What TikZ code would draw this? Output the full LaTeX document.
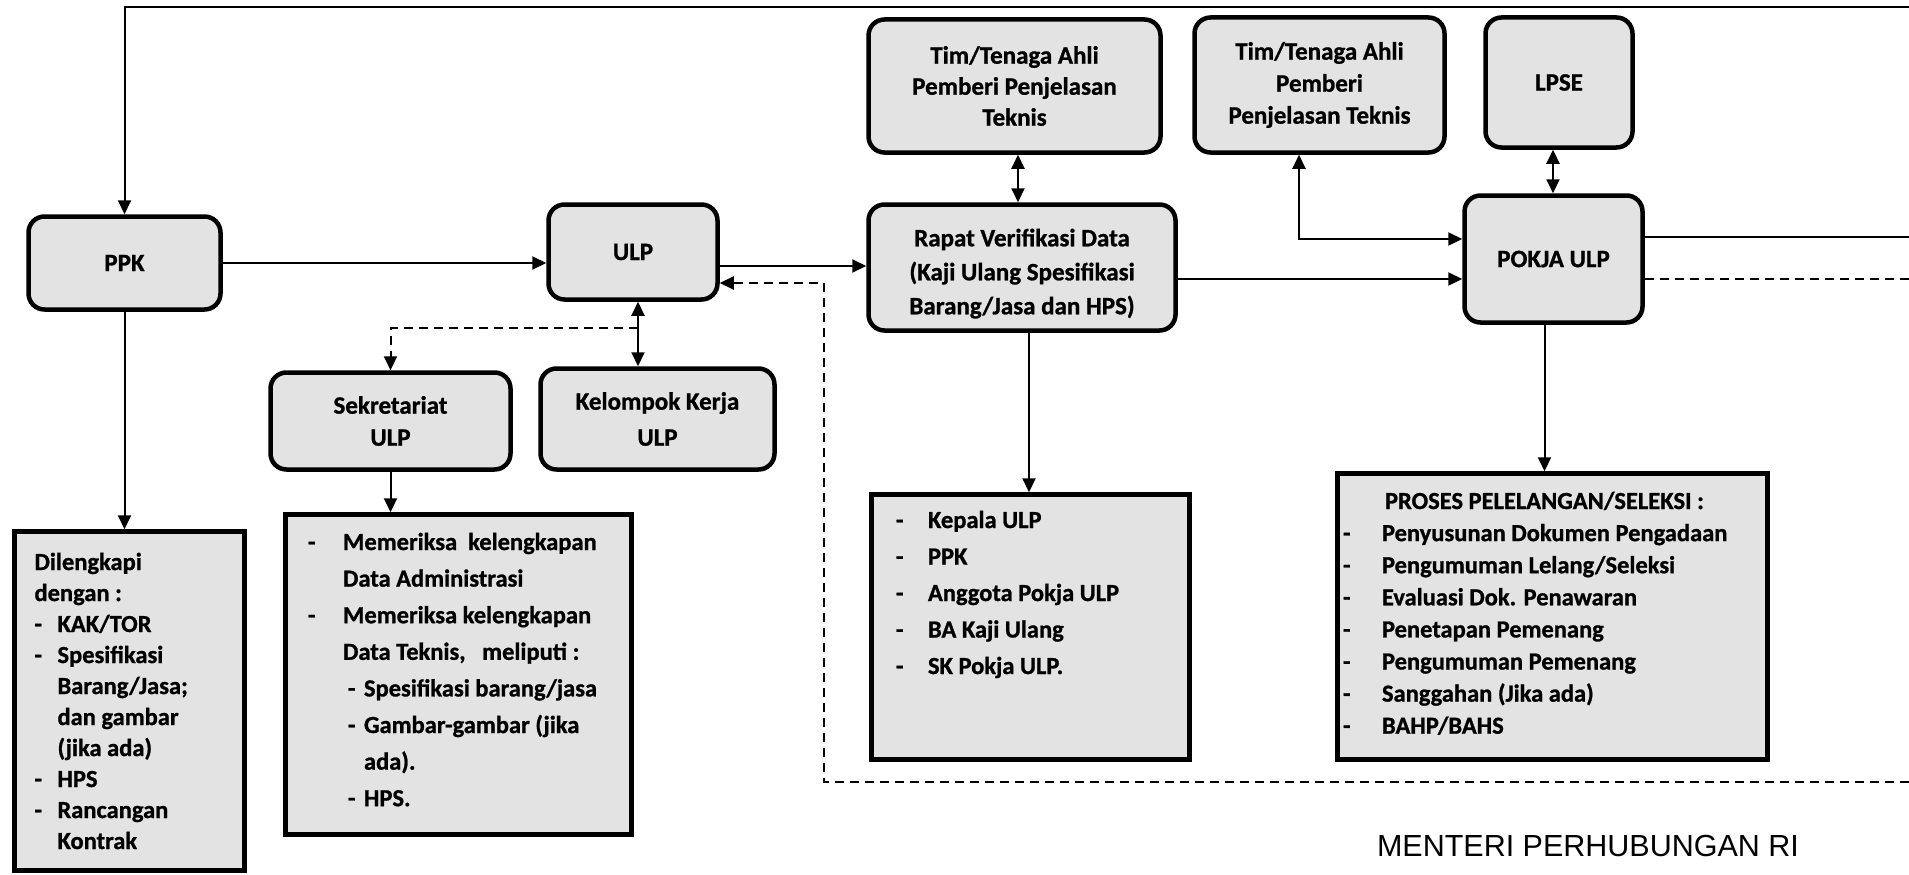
\documentclass[tikz,border=0pt]{standalone}
\usepackage{fontspec}
\setmainfont{Carlito}[BoldFeatures={FakeBold=1}]
\newfontfamily\arialf{Liberation Sans}
\usetikzlibrary{arrows.meta,calc}
\definecolor{boxgray}{gray}{0.89}
\newcommand\Lx[2]{\hspace*{#1pt}#2\par}
\newcommand\Ld[3]{\hspace*{#1pt}\makebox[#2pt][l]{-}#3\par}
\begin{document}
\begin{tikzpicture}[x=1pt,y=-1pt,
  rbox/.style={draw, line width=4.5pt, rounded corners=16pt, fill=boxgray, align=center, inner sep=0pt},
  lbox/.style={draw, line width=4.5pt, fill=boxgray, inner sep=0pt},
  conn/.style={line width=2pt},
  arr/.style={conn, -{Triangle[length=14pt,width=13pt]}},
  darr/.style={conn, {Triangle[length=14pt,width=13pt]}-{Triangle[length=14pt,width=13pt]}},
  dsh/.style={dash pattern=on 9pt off 6pt}]
\fill[white] (0,0) rectangle (1909,875);
\useasboundingbox (0,0) rectangle (1909,875);

% rounded boxes
\node[rbox, minimum width=192pt, minimum height=93pt, font=\fontsize{25}{32}\selectfont\bfseries] (PPK) at (124.5,263) {PPK};
\node[rbox, minimum width=169pt, minimum height=95pt, font=\fontsize{25}{32}\selectfont\bfseries] (ULP) at (633,252) {ULP};
\node[rbox, minimum width=307pt, minimum height=126pt, font=\fontsize{25}{34}\selectfont\bfseries] (Rapat) at (1022,267.5) {\raisebox{-6pt}[\height][\depth]{\begin{tabular}{@{}c@{}}Rapat Verifikasi Data\\(Kaji Ulang Spesifikasi\\Barang/Jasa dan HPS)\end{tabular}}};
\node[rbox, minimum width=292pt, minimum height=133pt, font=\fontsize{25}{31}\selectfont\bfseries] (Tim1) at (1014.5,86) {Tim/Tenaga Ahli\\Pemberi Penjelasan\\Teknis};
\node[rbox, minimum width=250pt, minimum height=135pt, font=\fontsize{25}{32}\selectfont\bfseries] (Tim2) at (1319.5,85) {Tim/Tenaga Ahli\\Pemberi\\Penjelasan Teknis};
\node[rbox, minimum width=147pt, minimum height=130pt, font=\fontsize{25}{32}\selectfont\bfseries] (LPSE) at (1559,82.5) {LPSE};
\node[rbox, minimum width=178pt, minimum height=127pt, font=\fontsize{25}{32}\selectfont\bfseries] (POKJA) at (1553.5,259) {POKJA ULP};
\node[rbox, minimum width=240pt, minimum height=97pt, font=\fontsize{25}{32}\selectfont\bfseries] (Sek) at (390.5,421) {Sekretariat\\ULP};
\node[rbox, minimum width=234pt, minimum height=101pt, font=\fontsize{25}{36}\selectfont\bfseries] (Kel) at (657.5,419) {Kelompok Kerja\\ULP};

% list boxes
\node[lbox] (PPKL) at (129.5,701) {\parbox[c][339pt][t]{230pt}{\fontsize{24.5}{31}\selectfont\bfseries\parindent=0pt\parskip=0pt
\Lx{20}{\rule{0pt}{38.5pt}Dilengkapi}
\Lx{20}{dengan :}
\Ld{20}{23}{KAK/TOR}
\Ld{20}{23}{Spesifikasi}
\Lx{43}{Barang/Jasa;}
\Lx{43}{dan gambar}
\Lx{43}{(jika ada)}
\Ld{20}{23}{HPS}
\Ld{20}{23}{Rancangan}
\Lx{43}{Kontrak}}};

\node[lbox] (SekL) at (458.5,674.5) {\parbox[c][320pt][t]{346pt}{\fontsize{24.5}{36.6}\selectfont\bfseries\parindent=0pt\parskip=0pt
\Ld{22.5}{35}{\rule{0pt}{35.5pt}Memeriksa\ \ kelengkapan}
\Lx{57.5}{Data Administrasi}
\Ld{22.5}{35}{Memeriksa kelengkapan}
\Lx{57.5}{Data Teknis,\ \ \ meliputi :}
\Ld{62.5}{16}{Spesifikasi barang/jasa}
\Ld{62.5}{16}{Gambar-gambar (jika}
\Lx{78.5}{ada).}
\Ld{62.5}{16}{HPS.}}};

\node[lbox] (RapatL) at (1030.5,627) {\parbox[c][265pt][t]{318pt}{\fontsize{24.5}{36.5}\selectfont\bfseries\parindent=0pt\parskip=0pt
\Ld{24.5}{32}{\rule{0pt}{33.5pt}Kepala ULP}
\Ld{24.5}{32}{PPK}
\Ld{24.5}{32}{Anggota Pokja ULP}
\Ld{24.5}{32}{BA Kaji Ulang}
\Ld{24.5}{32}{SK Pokja ULP.}}};

\node[lbox] (ProsesL) at (1552.5,616.5) {\parbox[c][286pt][t]{430pt}{\fontsize{24.5}{32.1}\selectfont\bfseries\parindent=0pt\parskip=0pt
\Lx{47.5}{\rule{0pt}{35.5pt}PROSES PELELANGAN/SELEKSI :}
\Ld{5.5}{39}{Penyusunan Dokumen Pengadaan}
\Ld{5.5}{39}{Pengumuman Lelang/Seleksi}
\Ld{5.5}{39}{Evaluasi Dok. Penawaran}
\Ld{5.5}{39}{Penetapan Pemenang}
\Ld{5.5}{39}{Pengumuman Pemenang}
\Ld{5.5}{39}{Sanggahan (Jika ada)}
\Ld{5.5}{39}{BAHP/BAHS}}};

\node[font=\arialf\fontsize{30.5}{36}\selectfont, inner sep=0pt] (menteri) at (1588,846) {MENTERI PERHUBUNGAN RI};

% coordinates
\coordinate (topR) at (1909,7);
\coordinate (dR) at (1909,782);
\coordinate (dL) at (824,782);
\coordinate (jn) at (638,328);
\coordinate (tb) at (1299,239);
\coordinate (rsol) at (1909,237);
\coordinate (rdsh) at (1909,279);
\coordinate (ui) at ([yshift=-31pt]ULP.east);
\coordinate (re) at ([yshift=-11.5pt]Rapat.east);
\coordinate (ue) at ([yshift=-14pt]ULP.east);

% connectors
\draw[arr] (topR) -- (PPK.north |- topR) -- (PPK.north);
\draw[arr] (PPK.east) -- (PPK.east -| ULP.west);
\draw[arr] (ue) -- (ue -| Rapat.west);
\draw[arr,dsh] (dR) -- (dL) -- (dL |- ui) -- (ui);
\draw[darr] ([xshift=5pt]ULP.south) -- ([xshift=5pt]ULP.south |- Kel.north);
\draw[arr,dsh] (jn) -- (jn -| Sek.north) -- (Sek.north);
\draw[arr] (Sek.south) -- (Sek.south |- SekL.north);
\draw[arr] (PPK.south) -- (PPK.south |- PPKL.north);
\draw[darr] ([xshift=3.5pt]Tim1.south) -- ([xshift=3.5pt]Tim1.south |- Rapat.north);
\draw[arr] (re) -- (re -| POKJA.west);
\draw[darr] ([xshift=-20.5pt]Tim2.south) -- (tb) -- (tb -| POKJA.west);
\draw[darr] ([xshift=-6pt]LPSE.south) -- ([xshift=-6pt]LPSE.south |- POKJA.north);
\draw[arr] ([xshift=-9pt]POKJA.south) -- ([xshift=-9pt]POKJA.south |- ProsesL.north);
\draw[arr] ([xshift=7pt]Rapat.south) -- ([xshift=7pt]Rapat.south |- RapatL.north);
\draw[conn] (rsol -| POKJA.east) -- (rsol);
\draw[conn,dsh] (rdsh -| POKJA.east) -- (rdsh);
\end{tikzpicture}
\end{document}
